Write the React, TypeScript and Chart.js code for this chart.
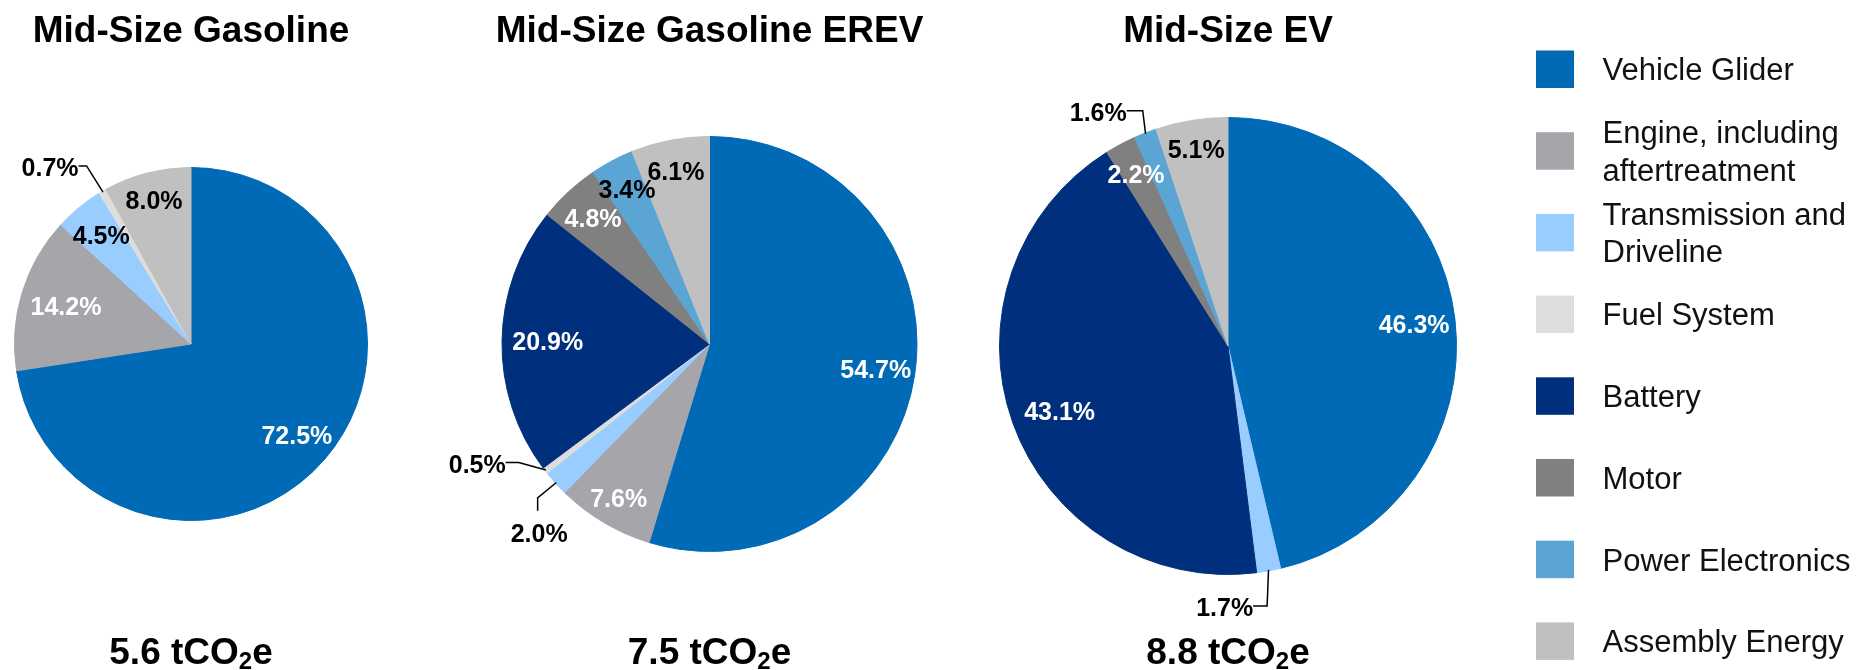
import React, { useEffect, useRef } from 'react';
import { Chart, registerables } from 'chart.js';

Chart.register(...registerables);

// ---------- data ----------
const categories = [
  'Vehicle Glider',
  'Engine, including\naftertreatment',
  'Transmission and\nDriveline',
  'Fuel System',
  'Battery',
  'Motor',
  'Power Electronics',
  'Assembly Energy',
];
const vehicles = ['Mid-Size Gasoline', 'Mid-Size Gasoline EREV', 'Mid-Size EV'];
const totals = ['5.6', '7.5', '8.8'];
const gasolineShares = [72.5, 14.2, 4.5, 0.7, 0, 0, 0, 8.0];
const erevShares = [54.7, 7.6, 2.0, 0.5, 20.9, 4.8, 3.4, 6.1];
const evShares = [46.3, 0, 1.7, 0, 43.1, 2.2, 1.6, 5.1];
const shares = [gasolineShares, erevShares, evShares];

// ---------- styles / layout ----------
const colors = ['#006AB6', '#A6A6AA', '#99CCFF', '#DDDDDD', '#00307D', '#808080', '#5BA5D5', '#C0C0C0'];
const W = 1856;
const H = 670;
const FONT = '"Liberation Sans", Arial, sans-serif';
const pieLayout = [
  { cx: 191, cy: 344, r: 177 },
  { cx: 709.5, cy: 344, r: 208 },
  { cx: 1228, cy: 346, r: 229 },
];
const WH = '#FFFFFF';
const BK = '#000000';
type LabelStyle = { rf: number; da?: number; c: string; leader?: 'right' | 'top'; elbow?: number } | null;
const labelStyles: LabelStyle[][] = [
  [
    { rf: 0.79, c: WH },
    { rf: 0.74, c: WH },
    { rf: 0.8, c: BK },
    { rf: 1.28, da: -8.5, c: BK, leader: 'right', elbow: 8 },
    null,
    null,
    null,
    { rf: 0.84, c: BK },
  ],
  [
    { rf: 0.81, c: WH },
    { rf: 0.86, c: WH },
    { rf: 1.225, da: -5.8, c: BK, leader: 'top', elbow: 12.7 },
    { rf: 1.26, da: 10.3, c: BK, leader: 'right', elbow: 13 },
    { rf: 0.78, c: WH },
    { rf: 0.825, c: WH },
    { rf: 0.845, c: BK },
    { rf: 0.85, c: BK },
  ],
  [
    { rf: 0.82, c: WH },
    null,
    { rf: 1.144, da: 11, c: BK, leader: 'right', elbow: 14 },
    null,
    { rf: 0.79, da: -1.5, c: WH },
    { rf: 0.855, c: WH },
    { rf: 1.17, da: -7.8, c: BK, leader: 'right', elbow: 16 },
    { rf: 0.873, c: BK },
  ],
];
const LABEL_SIZE = 25;
const TITLE_SIZE = 37;
const LEGEND_SIZE = 31;

function makeLabelPlugin(i: number) {
  return {
    id: 'sliceLabels' + i,
    afterDatasetsDraw(chart: any) {
      const ctx = chart.ctx as CanvasRenderingContext2D;
      const meta = chart.getDatasetMeta(0);
      const vals = chart.data.datasets[0].data as number[];
      ctx.save();
      meta.data.forEach((arc: any, j: number) => {
        const st = labelStyles[i][j];
        if (!st || !vals[j]) return;
        const p = arc.getProps(['x', 'y', 'startAngle', 'endAngle', 'outerRadius'], true);
        const mid = (p.startAngle + p.endAngle) / 2;
        const a = mid + ((st.da || 0) * Math.PI) / 180;
        const R = p.outerRadius * st.rf;
        const lx = p.x + Math.cos(a) * R;
        const ly = p.y + Math.sin(a) * R;
        const text = vals[j].toFixed(1) + '%';
        ctx.font = `bold ${LABEL_SIZE}px ${FONT}`;
        const w = ctx.measureText(text).width;
        ctx.fillStyle = st.c;
        ctx.textAlign = 'center';
        ctx.textBaseline = 'alphabetic';
        ctx.fillText(text, lx, ly + LABEL_SIZE * 0.358);
        if (st.leader) {
          const ex = p.x + Math.cos(mid) * (p.outerRadius - 1);
          const ey = p.y + Math.sin(mid) * (p.outerRadius - 1);
          ctx.beginPath();
          ctx.strokeStyle = BK;
          ctx.lineWidth = 1.5;
          if (st.leader === 'right') {
            const sx = lx + w / 2;
            const sy = ly - 1.5;
            ctx.moveTo(sx, sy);
            ctx.lineTo(sx + (st.elbow || 0), sy);
            ctx.lineTo(ex, ey);
          } else {
            const sx = lx - 1.5;
            const sy = ly - 22;
            ctx.moveTo(sx, sy);
            ctx.lineTo(sx, sy - (st.elbow || 0));
            ctx.lineTo(ex, ey);
          }
          ctx.stroke();
        }
      });
      ctx.restore();
    },
  };
}

function makeTextPlugin(i: number) {
  return {
    id: 'texts' + i,
    afterDraw(chart: any) {
      const ctx = chart.ctx as CanvasRenderingContext2D;
      const { cx } = pieLayout[i];
      ctx.save();
      ctx.fillStyle = BK;
      ctx.textBaseline = 'alphabetic';
      // title
      ctx.font = `bold ${TITLE_SIZE}px ${FONT}`;
      ctx.textAlign = 'center';
      ctx.fillText(vehicles[i], cx, 41.5);
      // total
      const main = `${totals[i]} tCO`;
      const subSize = 24;
      ctx.font = `bold ${TITLE_SIZE}px ${FONT}`;
      const w1 = ctx.measureText(main).width;
      const w3 = ctx.measureText('e').width;
      ctx.font = `bold ${subSize}px ${FONT}`;
      const w2 = ctx.measureText('2').width;
      let x = cx - (w1 + w2 + w3) / 2;
      const base = 664;
      ctx.textAlign = 'left';
      ctx.font = `bold ${TITLE_SIZE}px ${FONT}`;
      ctx.fillText(main, x, base);
      x += w1;
      ctx.font = `bold ${subSize}px ${FONT}`;
      ctx.fillText('2', x, base + 5);
      x += w2;
      ctx.font = `bold ${TITLE_SIZE}px ${FONT}`;
      ctx.fillText('e', x, base);

      // legend (drawn once, on the last chart)
      if (i === 2) {
        const lx = 1536;
        const top0 = 50.5;
        const step = 81.7;
        ctx.font = `${LEGEND_SIZE}px ${FONT}`;
        categories.forEach((name, k) => {
          const y = top0 + step * k;
          ctx.fillStyle = colors[k];
          ctx.fillRect(lx, y, 38, 37.5);
          const c = y + 18.75;
          const lines = name.split('\n');
          ctx.fillStyle = '#111111';
          lines.forEach((ln, li) => {
            const by = c + LEGEND_SIZE * 0.358 + (li - (lines.length - 1) / 2) * 37.5;
            ctx.fillText(ln, 1602.5, by);
          });
        });
      }
      ctx.restore();
    },
  };
}

export default function App() {
  const refs = [useRef<HTMLCanvasElement>(null), useRef<HTMLCanvasElement>(null), useRef<HTMLCanvasElement>(null)];

  useEffect(() => {
    const charts: Chart[] = [];
    refs.forEach((ref, i) => {
      if (!ref.current) return;
      const { cx, cy, r } = pieLayout[i];
      charts.push(
        new Chart(ref.current, {
          type: 'pie',
          data: {
            labels: categories.map((c) => c.replace('\n', ' ')),
            datasets: [
              {
                data: shares[i],
                backgroundColor: colors,
                borderColor: colors,
                borderWidth: shares[i].map((v) => (v > 0 ? 1 : 0)),
                hoverOffset: 0,
              },
            ],
          },
          options: {
            responsive: false,
            animation: false,
            devicePixelRatio: 1,
            events: [],
            layout: {
              padding: { left: cx - r, top: cy - r, right: W - cx - r, bottom: H - cy - r },
            },
            plugins: {
              legend: { display: false },
              tooltip: { enabled: false },
              title: { display: false },
            },
          } as any,
          plugins: [makeLabelPlugin(i), makeTextPlugin(i)],
        })
      );
    });
    return () => charts.forEach((c) => c.destroy());
  }, []);

  return (
    <div style={{ position: 'absolute', left: 0, top: 0, width: W, height: H, background: '#FFFFFF' }}>
      {refs.map((ref, i) => (
        <canvas
          key={i}
          ref={ref}
          width={W}
          height={H}
          style={{ position: 'absolute', left: 0, top: 0, width: W, height: H }}
        />
      ))}
    </div>
  );
}
